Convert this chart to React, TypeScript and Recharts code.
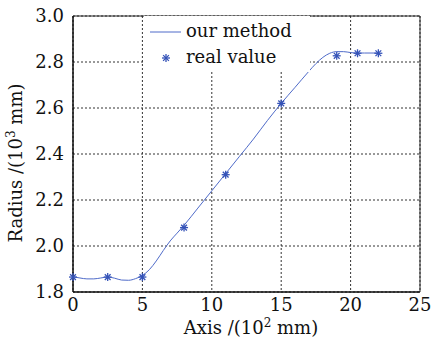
import { CartesianGrid, ComposedChart, Legend, Line, ReferenceArea, Scatter, XAxis, YAxis } from "recharts";

const curveX = [0, 0.5, 1, 1.5, 2, 2.5, 3, 3.5, 4, 4.5, 5, 5.5, 6, 6.5, 7, 7.5, 8, 9, 10, 11, 12, 13, 14, 15, 16, 17, 17.5, 18, 18.5, 19, 19.5, 20, 20.5, 21, 22];
const curveY = [1.866, 1.861, 1.857, 1.857, 1.861, 1.865, 1.86, 1.852, 1.851, 1.858, 1.872, 1.897, 1.935, 1.98, 2.022, 2.056, 2.09, 2.165, 2.24, 2.315, 2.39, 2.465, 2.545, 2.62, 2.69, 2.76, 2.793, 2.82, 2.838, 2.845, 2.845, 2.841, 2.839, 2.839, 2.839];

const starX = [0, 2.5, 5, 8, 11, 15, 19, 20.5, 22];
const starY = [1.865, 1.865, 1.865, 2.08, 2.31, 2.62, 2.827, 2.838, 2.838];

const xTicks = [0, 5, 10, 15, 20, 25];
const yTicks = [1.8, 2.0, 2.2, 2.4, 2.6, 2.8, 3.0];

const curve = curveX.map((x, i) => ({ x, y: curveY[i] }));
const stars = starX.map((x, i) => ({ x, y: starY[i] }));

const FONT = "'DejaVu Serif', serif";
const SIZE = 18;
const LINE = "#4f6bc9";
const STAR = "#3553b8";

function Star(props: any) {
  const { cx, cy } = props;
  const r = 4;
  const d = r * 0.72;
  return (
    <g stroke={STAR} strokeWidth={1.3}>
      <line x1={cx} y1={cy - r} x2={cx} y2={cy + r} />
      <line x1={cx - r} y1={cy} x2={cx + r} y2={cy} />
      <line x1={cx - d} y1={cy - d} x2={cx + d} y2={cy + d} />
      <line x1={cx - d} y1={cy + d} x2={cx + d} y2={cy - d} />
    </g>
  );
}

function LegendBox() {
  return (
    <svg width={166} height={56} style={{ display: "block" }}>
      <rect x={0} y={0} width={166} height={56} fill="#fff" />
      <line x1={6} y1={16} x2={37} y2={16} stroke={LINE} strokeWidth={1} />
      <text x={42} y={21} fontFamily={FONT} fontSize={SIZE} fill="#111">our method</text>
      <Star cx={22} cy={42} />
      <text x={42} y={47} fontFamily={FONT} fontSize={SIZE} fill="#111">real value</text>
    </svg>
  );
}

export default function App() {
  return (
    <div style={{ position: "absolute", left: 0, top: 0, width: 433, height: 342, background: "#fff" }}>
      <ComposedChart width={433} height={342} margin={{ top: 16, right: 13, bottom: 0, left: 0 }}>
        <CartesianGrid stroke="#333" strokeDasharray="2 2" />
        <XAxis
          dataKey="x"
          type="number"
          domain={[0, 25]}
          ticks={xTicks}
          height={50}
          tickLine={false}
          tickMargin={0}
          axisLine={{ stroke: "#000" }}
          tick={{ fontFamily: FONT, fontSize: SIZE, fill: "#111" }}
          label={{
            content: () => (
              <text x={251} y={334} textAnchor="middle" fontFamily={FONT} fontSize={SIZE} fill="#111">
                Axis /(10<tspan dy={-7} fontSize={12}>2</tspan>
                <tspan dy={7}> mm)</tspan>
              </text>
            ),
          }}
        />
        <YAxis
          dataKey="y"
          type="number"
          domain={[1.8, 3.0]}
          ticks={yTicks}
          width={73}
          tickLine={false}
          tickMargin={3}
          axisLine={{ stroke: "#000" }}
          tickFormatter={(v: number) => v.toFixed(1)}
          tick={{ fontFamily: FONT, fontSize: SIZE, fill: "#111" }}
          label={{
            content: () => (
              <text
                x={22}
                y={163}
                transform="rotate(-90 22 163)"
                textAnchor="middle"
                fontFamily={FONT}
                fontSize={SIZE}
                fill="#111"
              >
                Radius /(10<tspan dy={-7} fontSize={12}>3</tspan>
                <tspan dy={7}> mm)</tspan>
              </text>
            ),
          }}
        />
        <Line
          data={curve}
          dataKey="y"
          type="monotone"
          stroke={LINE}
          strokeWidth={1}
          dot={false}
          isAnimationActive={false}
        />
        <Scatter data={stars} dataKey="y" shape={<Star />} isAnimationActive={false} />
        <ReferenceArea x1={0} x2={25} y1={1.8} y2={3.0} fill="none" stroke="#222" strokeWidth={1} />
        <Legend
          layout="horizontal"
          verticalAlign="middle"
          align="center"
          content={() => <LegendBox />}
          wrapperStyle={{ left: 144, top: 16, width: 166, height: 56 }}
        />
      </ComposedChart>
    </div>
  );
}
